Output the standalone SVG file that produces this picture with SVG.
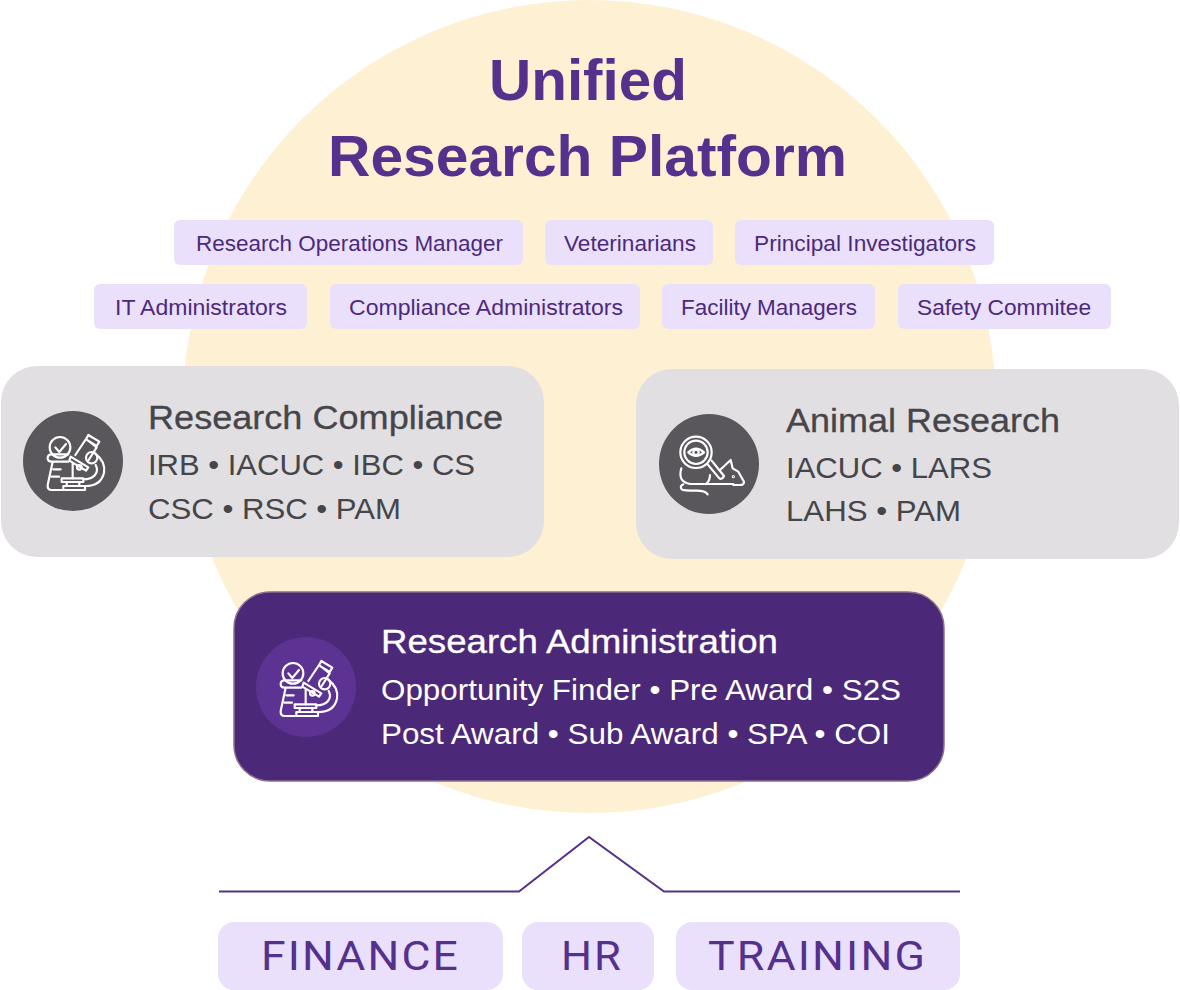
<svg xmlns="http://www.w3.org/2000/svg" width="1180" height="990" viewBox="0 0 1180 990">
<style>
text{font-family:"Liberation Sans",Arial,sans-serif}
.title{font-size:58px;font-weight:700;fill:#55308d}
.chip rect{fill:#ebe0fb}
.chip text{font-size:22px;fill:#4b2a7b}
.card{fill:#e1dfe2}
.h{font-size:33.500px;fill:#464549;stroke:#464549;stroke-width:.3}
.s{font-size:30px;fill:#464549}
.big rect{fill:#ebe0fb}
.big text{font-family:Roboto,"Liberation Sans",sans-serif;font-size:41.500px;fill:#55308d;letter-spacing:2px}
.ic{fill:none;stroke:#fff;stroke-width:6.500;stroke-linecap:round;stroke-linejoin:round}
</style>
<defs>
<g id="micro" class="ic" transform="scale(.3333) translate(-219 -303)">
<circle cx="180" cy="262" r="31"/>
<path d="M166 262l12 14 20-24"/>
<path d="M205 283H155Q143 283 143 295 143 305 155 305H205M158 305L143 375Q142 390 155 390H250M160 328h22M155 350h22"/>
<path d="M185 355H250V366H185ZM190 378H255V390H190ZM200 366V378M238 366V378"/>
<path d="M285 280Q318 305 312 338 303 378 255 378M287 315Q296 332 285 345 274 358 250 358"/>
<path d="M226 285L258 237 290 262 266 300M265 225L298 245 290 258 258 238Z"/>
<path d="M212 290L265 322 258 332 208 302ZM218 310V355"/>
<circle cx="238" cy="322" r="7"/>
<circle cx="275" cy="293" r="17"/>
</g>
<g id="mouse" class="ic" transform="scale(.3333) translate(-207 -192)">
<circle cx="168" cy="157" r="47"/>
<circle cx="168" cy="157" r="35"/>
<path d="M145 157Q168 135 192 157 168 178 145 157Z"/>
<circle cx="168" cy="157" r="8"/>
<path d="M203 193L238 235Q246 240 252 228L215 182"/>
<path d="M124 205Q112 245 150 252H280M210 225Q210 242 198 252"/>
<path d="M240 210L272 180 278 205 295 215 312 245Q312 255 300 255H280"/>
<path d="M130 253Q118 258 125 268 130 272 170 272 195 272 203 283"/>
<circle cx="280" cy="230" r="1.500"/>
</g>
</defs>
<circle id="backdrop" cx="589.500" cy="406.500" r="406.500" fill="#fef1d3"/>
<g id="title"><text class="title" x="489" y="100" textLength="198" lengthAdjust="spacingAndGlyphs">Unified</text><text class="title" x="328" y="176" textLength="519" lengthAdjust="spacingAndGlyphs">Research Platform</text></g>
<g id="chip-rom" class="chip"><rect x="174" y="220" width="349" height="45" rx="6"/><text x="196" y="251" textLength="307" lengthAdjust="spacingAndGlyphs">Research Operations Manager</text></g>
<g id="chip-vet" class="chip"><rect x="545" y="220" width="168" height="45" rx="6"/><text x="564" y="251" textLength="132" lengthAdjust="spacingAndGlyphs">Veterinarians</text></g>
<g id="chip-pi" class="chip"><rect x="735" y="220" width="259" height="45" rx="6"/><text x="754" y="251" textLength="222" lengthAdjust="spacingAndGlyphs">Principal Investigators</text></g>
<g id="chip-it" class="chip"><rect x="94" y="284" width="213" height="45" rx="6"/><text x="115" y="315" textLength="172" lengthAdjust="spacingAndGlyphs">IT Administrators</text></g>
<g id="chip-ca" class="chip"><rect x="330" y="284" width="310" height="45" rx="6"/><text x="349" y="315" textLength="274" lengthAdjust="spacingAndGlyphs">Compliance Administrators</text></g>
<g id="chip-fm" class="chip"><rect x="662" y="284" width="213" height="45" rx="6"/><text x="681" y="315" textLength="176" lengthAdjust="spacingAndGlyphs">Facility Managers</text></g>
<g id="chip-sc" class="chip"><rect x="898" y="284" width="213" height="45" rx="6"/><text x="917" y="315" textLength="174" lengthAdjust="spacingAndGlyphs">Safety Commitee</text></g>
<g id="research-compliance">
<rect class="card" x="1" y="366" width="543" height="191" rx="36"/>
<circle cx="73" cy="461" r="50" fill="#59575c"/>
<use href="#micro" x="73" y="461"/>
<text class="h" x="148" y="429" textLength="355" lengthAdjust="spacingAndGlyphs">Research Compliance</text>
<text class="s" x="148" y="475" textLength="327" lengthAdjust="spacingAndGlyphs">IRB • IACUC • IBC • CS</text>
<text class="s" x="148" y="519" textLength="253" lengthAdjust="spacingAndGlyphs">CSC • RSC • PAM</text>
</g>
<g id="animal-research">
<rect class="card" x="636" y="369" width="543" height="190" rx="36"/>
<circle cx="709" cy="464" r="50" fill="#59575c"/>
<use href="#mouse" x="709" y="464"/>
<text class="h" x="786" y="432" textLength="274" lengthAdjust="spacingAndGlyphs">Animal Research</text>
<text class="s" x="786" y="478" textLength="206" lengthAdjust="spacingAndGlyphs">IACUC • LARS</text>
<text class="s" x="786" y="521" textLength="175" lengthAdjust="spacingAndGlyphs">LAHS • PAM</text>
</g>
<g id="research-administration">
<rect x="234" y="592" width="710" height="189" rx="36" fill="#4c2878" stroke="#8a6f8f" stroke-width="1.500"/>
<circle cx="306" cy="687" r="50" fill="#5c3393"/>
<use href="#micro" x="306" y="687"/>
<text class="h" style="fill:#fff;stroke:#fff" x="381" y="653" textLength="397" lengthAdjust="spacingAndGlyphs">Research Administration</text>
<text class="s" style="fill:#fff" x="381" y="700" textLength="520" lengthAdjust="spacingAndGlyphs">Opportunity Finder • Pre Award • S2S</text>
<text class="s" style="fill:#fff" x="381" y="744" textLength="509" lengthAdjust="spacingAndGlyphs">Post Award • Sub Award • SPA • COI</text>
</g>
<g id="connectors"><path d="M219 891.500H519L589 837 664 891.500H960" fill="none" stroke="#55308d" stroke-width="2"/></g>
<g id="finance" class="big"><rect x="218" y="922" width="285" height="68" rx="16"/><text x="261" y="970" textLength="199" lengthAdjust="spacingAndGlyphs">FINANCE</text></g>
<g id="hr" class="big"><rect x="522" y="922" width="132" height="68" rx="16"/><text x="561" y="970" textLength="62" lengthAdjust="spacingAndGlyphs">HR</text></g>
<g id="training" class="big"><rect x="676" y="922" width="284" height="68" rx="16"/><text x="708" y="970" textLength="219" lengthAdjust="spacingAndGlyphs">TRAINING</text></g>
</svg>
